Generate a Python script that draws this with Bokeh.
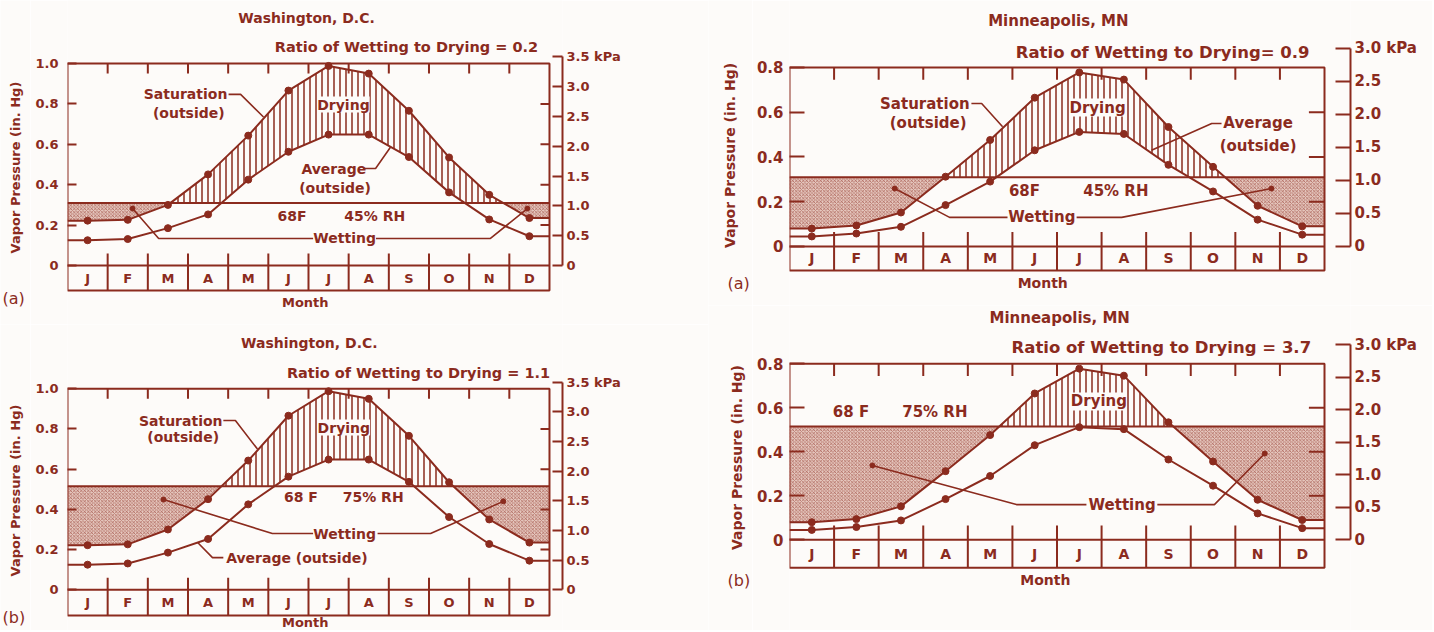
import numpy as np
from bokeh.plotting import figure
from bokeh.layouts import column, row
from bokeh.models import Range1d, LinearAxis, FixedTicker, Label, PrintfTickFormatter
from bokeh.embed import file_html
from bokeh.resources import INLINE
from bokeh.core.properties import value

# ---------------- data ----------------
months = ["J", "F", "M", "A", "M", "J", "J", "A", "S", "O", "N", "D"]

# Washington, D.C. outdoor vapour pressures (in. Hg)
dc_saturation = [0.222, 0.226, 0.300, 0.451, 0.643, 0.866, 0.988, 0.950, 0.766, 0.535, 0.350, 0.235]
dc_average = [0.125, 0.131, 0.185, 0.253, 0.425, 0.563, 0.648, 0.648, 0.537, 0.362, 0.228, 0.145]

# Minneapolis, MN outdoor vapour pressures (in. Hg)
msp_saturation = [0.080, 0.094, 0.152, 0.312, 0.476, 0.665, 0.778, 0.746, 0.534, 0.356, 0.182, 0.090]
msp_average = [0.045, 0.058, 0.088, 0.185, 0.290, 0.430, 0.512, 0.503, 0.365, 0.246, 0.120, 0.053]

# indoor vapour pressure at 68 F (in. Hg)
indoor_45rh = 0.31
indoor_75rh = 0.515

ratios = ["0.2", "1.1", "0.9", "3.7"]

inhg_ticks_dc = [0, 0.2, 0.4, 0.6, 0.8, 1.0]
inhg_ticks_msp = [0, 0.2, 0.4, 0.6, 0.8]
kpa_ticks_dc = [0, 0.5, 1.0, 1.5, 2.0, 2.5, 3.0, 3.5]
kpa_ticks_msp = [0, 0.5, 1.0, 1.5, 2.0, 2.5, 3.0]

KPA = 3.38639
RED = "#8b2b1e"
BG = "#fdfbf9"
WET = "#e6c8bf"
FONT = "DejaVu Sans"


def lab(p, x, y, text, size, align="center", angle=0.0, bg=None, style="bold"):
    p.add_layout(Label(x=x, y=y, text=text, text_align=align, text_baseline="middle",
                       text_font=FONT, text_font_size=f"{size}px", text_color=RED,
                       text_font_style=style, angle=angle, background_fill_color=bg))


def leader(p, pts, dot=False):
    xs = [a for a, b in pts]
    ys = [b for a, b in pts]
    p.line(xs, ys, line_color=RED, line_width=1.6)
    if dot:
        p.scatter([xs[-1]], [ys[-1]], size=5, color=RED)


def build(c):
    n = len(months)
    xc = np.arange(n) + 0.5
    xe = np.concatenate([[0], xc, [n]])
    sat = np.array(c["sat"])
    avg = np.array(c["avg"])
    sate = np.concatenate([[sat[0]], sat, [sat[-1]]])
    avge = np.concatenate([[avg[0]], avg, [avg[-1]]])
    fs = c["fs"]
    yr = Range1d(c["y0"], c["y1"])

    # narrow strip on the left holding the rotated axis title and the panel tag
    s = figure(width=c["sw"], height=c["h"], output_backend="svg", toolbar_location=None,
               x_range=Range1d(0, c["sw"]), y_range=yr,
               x_axis_location=None, y_axis_location=None,
               min_border_left=0, min_border_right=0, min_border_top=0, min_border_bottom=0,
               background_fill_color=BG, border_fill_color=BG, outline_line_color=None)
    s.grid.visible = False
    a = c["ann"]
    lab(s, *a["ytitle"], "Vapor Pressure (in. Hg)", c["yts"], angle=np.pi / 2)
    lab(s, *a["tag"], c["tag"], 16, align="left", style="normal")

    p = figure(width=c["w"], height=c["h"], output_backend="svg", toolbar_location=None,
               x_range=Range1d(0, c["xend"]), y_range=yr,
               x_axis_location=None, y_axis_location=None,
               min_border_left=c["bl"], min_border_right=c["br"],
               min_border_top=0, min_border_bottom=0,
               background_fill_color=BG, border_fill_color=BG, outline_line_color=None)
    p.grid.visible = False
    p.extra_y_ranges = {"kpa": Range1d(c["y0"] * KPA, c["y1"] * KPA)}

    # shaded regions
    rh = c["rh"]
    xf = np.linspace(0, n, 2401)
    sf = np.interp(xf, xe, sate)
    af = np.interp(xf, xe, avge)
    low = np.maximum(af, rh)
    p.varea(x=xf, y1=np.minimum(sf, rh), y2=np.full_like(xf, rh), fill_color=WET,
            hatch_pattern="diagonal_cross", hatch_color=RED, hatch_alpha=0.7,
            hatch_scale=3.5, hatch_weight=0.7)
    p.varea(x=xf, y1=low, y2=np.maximum(sf, low), fill_color=BG,
            hatch_pattern="vertical_line", hatch_color=RED, hatch_scale=6, hatch_weight=1.5)

    # indoor line and outdoor curves
    p.line([0, n], [rh, rh], line_color=RED, line_width=2)
    p.line(xe, sate, line_color=RED, line_width=2)
    p.line(xe, avge, line_color=RED, line_width=2)
    p.scatter(xc, sat, size=7, color=RED)
    p.scatter(xc, avg, size=7, color=RED)

    # frame and month boxes
    top = c["top"]
    rowh = c["row"]
    p.line([0, n, n, 0, 0], [top, top, -rowh, -rowh, top], line_color=RED, line_width=2)
    p.line([0, n], [0, 0], line_color=RED, line_width=2)
    b = np.arange(1, n)
    p.segment(x0=b, y0=-rowh, x1=b, y1=c["tick_up"], line_color=RED, line_width=2)
    p.segment(x0=b, y0=top, x1=b, y1=top - c["tick_down"], line_color=RED, line_width=2)
    rt = np.array(c["ticks"][1:-1])
    p.segment(x0=n - c["rtick"], y0=rt, x1=n, y1=rt, line_color=RED, line_width=2)
    p.text(x=xc, y=-rowh / 2, text=months, text_align="center", text_baseline="middle",
           text_font=value(FONT), text_font_size=f"{fs - 1}px", text_color=RED,
           text_font_style="bold")

    # axes
    ax = LinearAxis(ticker=FixedTicker(ticks=c["ticks"]), bounds=(0, top),
                    axis_line_color=None, major_tick_in=c["ltick"], major_tick_out=0,
                    major_tick_line_color=RED, major_tick_line_width=2,
                    minor_tick_line_color=None, major_label_standoff=c["lstand"],
                    formatter=PrintfTickFormatter(format="%.1f"),
                    major_label_overrides={0: "0"},
                    major_label_text_font=FONT, major_label_text_font_size=f"{c['tks']}px",
                    major_label_text_font_style="bold", major_label_text_color=RED)
    p.add_layout(ax, "left")
    kt = c["kticks"]
    kx = LinearAxis(y_range_name="kpa", ticker=FixedTicker(ticks=kt), bounds=(0, kt[-1]),
                    axis_line_color=RED, axis_line_width=2,
                    major_tick_in=c["ktick"], major_tick_out=0,
                    major_tick_line_color=RED, major_tick_line_width=2,
                    minor_tick_line_color=None, major_label_standoff=4,
                    formatter=PrintfTickFormatter(format="%.1f"),
                    major_label_overrides={0: "0", kt[-1]: f"{kt[-1]:.1f} kPa"},
                    major_label_text_font=FONT, major_label_text_font_size=f"{c['tks']}px",
                    major_label_text_font_style="bold", major_label_text_color=RED)
    p.add_layout(kx, "right")

    # texts
    lab(p, *a["title"], c["title"], c["tts"])
    lab(p, *a["ratio"], "Ratio of Wetting to Drying" + c["ratio"], c["rts"])
    lab(p, *a["month"], "Month", fs - 1)
    lab(p, *a["drying"], "Drying", fs, bg=BG)
    lab(p, *a["rh1"], c["tmptext"], fs)
    lab(p, *a["rh2"], c["rhtext"], fs)
    lab(p, *a["wetting"], "Wetting", fs, bg=BG)
    for pts in a["wet_leaders"]:
        leader(p, pts, dot=True)
    if "sat" in a:
        lab(p, *a["sat"], "Saturation", fs, align="right")
        lab(p, *a["sat2"], "(outside)", fs)
        leader(p, a["sat_leader"])
    if "avg" in a:
        lab(p, *a["avg"], a["avg_text"], fs, align=a.get("avg_align", "center"))
        if "avg2" in a:
            lab(p, *a["avg2"], "(outside)", fs)
        leader(p, a["avg_leader"])
    return row(s, p)


common_dc = dict(sat=dc_saturation, avg=dc_average, top=1.0, ticks=inhg_ticks_dc,
                 kticks=kpa_ticks_dc, sw=30, w=678, bl=37, br=146, xend=12.324,
                 tick_up=0.06, tick_down=0.05, rtick=0.224, ltick=9, lstand=9,
                 ktick=10, fs=14, tks=13, tts=14, rts=14.5, yts=13,
                 title="Washington, D.C.")
common_msp = dict(sat=msp_saturation, avg=msp_average, top=0.8, ticks=inhg_ticks_msp,
                  kticks=kpa_ticks_msp, sw=44, w=680, bl=37, br=82, xend=12.583,
                  tick_up=0.065, tick_down=0.055, rtick=0.35, ltick=15, lstand=6,
                  ktick=15, fs=15, tks=15, tts=15, rts=16.5, yts=14,
                  title="Minneapolis, MN")

tl = build(dict(common_dc, h=324, y0=-0.2921, y1=1.3119, row=0.124, rh=indoor_45rh,
                ratio=" = " + ratios[0], tag="(a)", tmptext="68F", rhtext="45% RH",
                ann=dict(title=(5.95, 1.223), ratio=(8.44, 1.084), month=(5.92, -0.183),
                         tag=(2, -0.163), ytitle=(15, 0.485), drying=(6.87, 0.797),
                         rh1=(5.59, 0.243), rh2=(7.65, 0.243), wetting=(6.9, 0.134),
                         wet_leaders=[[(6.12, 0.134), (2.27, 0.134), (1.62, 0.282)],
                                      [(7.67, 0.134), (10.53, 0.134), (11.45, 0.282)]],
                         sat=(3.98, 0.847), sat2=(3.02, 0.757),
                         sat_leader=[(4.01, 0.847), (4.31, 0.847), (4.88, 0.735)],
                         avg=(6.63, 0.48), avg_text="Average", avg2=(6.66, 0.386),
                         avg_leader=[(7.37, 0.48), (7.67, 0.48), (8.04, 0.585)])))

bl = build(dict(common_dc, h=306, y0=-0.2025, y1=1.3199, row=0.128, rh=indoor_75rh,
                ratio=" = " + ratios[1], tag="(b)", tmptext="68 F", rhtext="75% RH",
                ann=dict(title=(6.02, 1.226), ratio=(8.74, 1.081), month=(5.92, -0.163),
                         tag=(2, -0.138), ytitle=(15, 0.494), drying=(6.88, 0.807),
                         rh1=(5.81, 0.464), rh2=(7.61, 0.464), wetting=(6.9, 0.28),
                         wet_leaders=[[(6.12, 0.28), (5.10, 0.28), (2.39, 0.449)],
                                      [(7.72, 0.28), (9.04, 0.28), (10.85, 0.44)]],
                         sat=(3.86, 0.842), sat2=(2.88, 0.758),
                         sat_leader=[(3.88, 0.842), (4.18, 0.842), (4.73, 0.70)],
                         avg=(3.95, 0.16), avg_text="Average (outside)", avg_align="left",
                         avg_leader=[(3.88, 0.16), (3.61, 0.16), (3.24, 0.235)])))

tr = build(dict(common_msp, h=305, y0=-0.2637, y1=1.0994, row=0.107, rh=indoor_45rh,
                ratio="= " + ratios[2], tag="(a)", tmptext="68F", rhtext="45% RH",
                ann=dict(title=(6.03, 1.01), ratio=(8.37, 0.867), month=(5.68, -0.165),
                         tag=(19, -0.165), ytitle=(21, 0.407), drying=(6.91, 0.621),
                         rh1=(5.27, 0.25), rh2=(7.32, 0.25), wetting=(5.66, 0.13),
                         wet_leaders=[[(4.89, 0.13), (3.59, 0.13), (2.36, 0.259)],
                                      [(6.44, 0.13), (7.45, 0.13), (10.81, 0.259)]],
                         sat=(4.04, 0.639), sat2=(3.11, 0.55),
                         sat_leader=[(4.08, 0.639), (4.31, 0.639), (4.78, 0.535)],
                         avg=(10.51, 0.55), avg_text="Average", avg2=(10.51, 0.451),
                         avg_leader=[(9.69, 0.55), (9.47, 0.55), (8.12, 0.43)])))

br = build(dict(common_msp, h=325, y0=-0.4123, y1=1.065, row=0.127, rh=indoor_75rh,
                ratio=" = " + ratios[3], tag="(b)", tmptext="68 F", rhtext="75% RH",
                ann=dict(title=(6.06, 1.01), ratio=(8.34, 0.874), month=(5.74, -0.184),
                         tag=(19, -0.184), ytitle=(28, 0.374), drying=(6.94, 0.629),
                         rh1=(1.38, 0.579), rh2=(3.26, 0.579), wetting=(7.46, 0.16),
                         wet_leaders=[[(6.66, 0.16), (5.09, 0.16), (1.86, 0.338)],
                                      [(8.25, 0.16), (9.53, 0.16), (10.66, 0.392)]])))

layout = row(column(tl, bl), column(tr, br))
open("out.html", "w").write(file_html(layout, INLINE))
